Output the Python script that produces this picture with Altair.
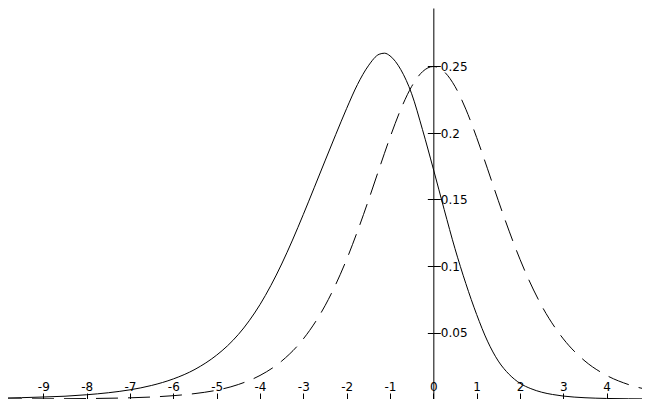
import altair as alt
import pandas as pd

# Solid curve (skewed density)
solid_x = [-10, -9.5, -9, -8.5, -8, -7.5, -7, -6.5, -6, -5.5, -5, -4.75, -4.5, -4.25,
           -4, -3.75, -3.5, -3.25, -3, -2.75, -2.5, -2.25, -2, -1.75, -1.5, -1.25,
           -1.125, -1.0, -0.75, -0.5, -0.25, 0, 0.25, 0.5, 0.75, 1, 1.25, 1.5, 1.75,
           2, 2.25, 2.5, 2.75, 3, 3.5, 4, 4.5, 5]
solid_y = [0.0007, 0.0010, 0.0015, 0.0021, 0.0032, 0.0047, 0.0069, 0.0102, 0.0151,
           0.0223, 0.0330, 0.0400, 0.0485, 0.0588, 0.0710, 0.0853, 0.1015, 0.1195,
           0.1388, 0.1588, 0.1790, 0.1990, 0.2185, 0.2365, 0.2505, 0.2592, 0.2600,
           0.2580, 0.2476, 0.2295, 0.2025, 0.1730, 0.1425, 0.1130, 0.0868, 0.0635,
           0.0435, 0.0285, 0.0185, 0.0118, 0.0078, 0.0051, 0.0034, 0.0022, 0.00095,
           0.0004, 0.00017, 0.00007]

# Dashed curve (symmetric density peaking at 0.25 at x = 0)
dashed_x = [-10, -9, -8, -7, -6.5, -6, -5.5, -5, -4.5, -4, -3.5, -3, -2.5, -2, -1.75,
            -1.5, -1.25, -1, -0.75, -0.5, -0.25, 0, 0.25, 0.5, 0.75, 1, 1.25, 1.5,
            1.75, 2, 2.5, 3, 3.5, 4, 4.5, 5]
dashed_y = [0.00005, 0.00012, 0.00034, 0.0009, 0.0015, 0.0025, 0.0041, 0.0066, 0.0109,
            0.0177, 0.0285, 0.0452, 0.0701, 0.1050, 0.1262, 0.1491, 0.1731, 0.1966,
            0.2179, 0.2350, 0.2461, 0.25, 0.2461, 0.2350, 0.2179, 0.1966, 0.1731,
            0.1491, 0.1262, 0.1050, 0.0701, 0.0452, 0.0285, 0.0177, 0.0109, 0.0066]

x_ticks = [-9, -8, -7, -6, -5, -4, -3, -2, -1, 0, 1, 2, 3, 4]
y_ticks = [0, 0.05, 0.1, 0.15, 0.2, 0.25]

# Page has an 8px margin; keep the scales of the reference (x = -10..5 over
# 650 px, y = 0..0.3 over ~399 px) and show the part that fits in the page.
PX_PER_X = 650 / 15.0
PX_PER_Y = 1330.0
W, H = 634, 391
x_lo = -10 + 8 / PX_PER_X
x_hi = x_lo + W / PX_PER_X
y_hi = H / PX_PER_Y
X0 = -x_lo * PX_PER_X  # plot pixel position of x = 0

solid = pd.DataFrame({"x": solid_x, "y": solid_y})
dashed = pd.DataFrame({"x": dashed_x, "y": dashed_y})

xscale = alt.Scale(domain=[x_lo, x_hi], nice=False, zero=False)
yscale = alt.Scale(domain=[0, y_hi], nice=False, zero=False)

common = dict(labelFont="DejaVu Sans", labelFontSize=12, labelColor="black",
              tickColor="black", domainColor="black", tickWidth=1, domainWidth=1,
              grid=False, title=None, labelOverlap=False, labelFlush=False,
              labelBound=False)


def x_axis():
    return alt.Axis(orient="top", offset=-H, values=x_ticks, tickSize=6,
                    labelPadding=3, labelBaseline="alphabetic", labelAlign="center",
                    labelExpr="'' + datum.value", **common)


y_axis_r = alt.Axis(orient="right", offset=-(W - X0), values=y_ticks, tickSize=7,
                    labelPadding=0, labelAlign="left", labelBaseline="middle",
                    labelExpr="(datum.value <= 0) ? '' : '' + datum.value",
                    **common)
y_axis_l = alt.Axis(orient="left", offset=-X0, values=y_ticks, tickSize=6,
                    labels=False, domain=False, **common)

solid_line = alt.Chart(solid).mark_line(
    color="black", strokeWidth=1, clip=True, interpolate="monotone"
).encode(
    x=alt.X("x:Q", scale=xscale, axis=x_axis()),
    y=alt.Y("y:Q", scale=yscale, axis=y_axis_r),
)

dashed_line = alt.Chart(dashed).mark_line(
    color="black", strokeWidth=1, clip=True, interpolate="monotone", strokeDash=[22, 10]
).encode(
    x=alt.X("x:Q", scale=xscale, axis=x_axis()),
    y=alt.Y("y:Q", scale=yscale, axis=y_axis_l),
)

chart = alt.layer(solid_line, dashed_line).resolve_axis(y="independent").properties(
    width=W, height=H,
    padding=0,
    autosize=alt.AutoSizeParams(type="none"),
    background="white",
).configure_view(stroke=None)

chart.save("out.html", embed_options={"renderer": "svg", "actions": False})
